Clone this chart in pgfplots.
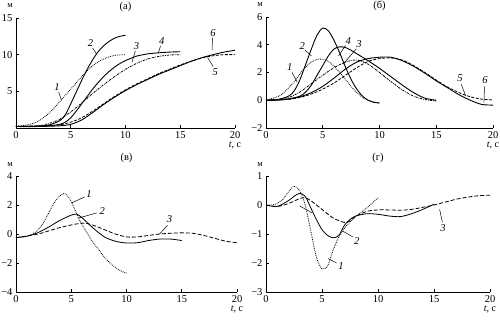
\documentclass[border=0pt]{standalone}
\usepackage{fontspec}
\setmainfont{Liberation Serif}
\usepackage{pgfplots}
\pgfplotsset{compat=1.18}
\newcommand\lab[3]{\node[font=\itshape\fontsize{10.5}{12}\selectfont, inner sep=0pt] at (axis cs:#1,#2) {#3};}
\newcommand\lead[4]{\draw[line width=0.5pt] (axis cs:#1,#2) -- (axis cs:#3,#4);}
\pgfplotsset{
  panel/.style={
    scale only axis, clip=false, anchor=south west,
    axis lines=left, axis line style={-, line width=0.6pt},
    tick align=inside, major tick length=3pt,
    tick style={line width=0.6pt, black},
    xmin=0, xmax=20,
    xtick={0,5,10,15,20}, xticklabels={0,5,10,15,20},
    ticklabel style={font=\fontsize{10.5}{12}\selectfont},
    xticklabel style={inner sep=0.5pt, yshift=-3pt},
    xlabel={\textit{t}, с},
    xlabel style={at={(axis description cs:1,0)}, anchor=north, yshift=-14pt, inner sep=0pt, font=\fontsize{10}{12}\selectfont},
    ylabel={м},
    ylabel style={rotate=-90, at={(axis description cs:0,1)}, anchor=base east, xshift=-3pt, yshift=10pt, inner sep=0pt, font=\fontsize{8.5}{10}\selectfont},
    title style={at={(axis description cs:0.5,1)}, anchor=base, yshift=2.5pt, inner sep=0pt, font=\fontsize{10.5}{12}\selectfont},
    every axis plot/.append style={smooth, no marks, black},
  },
  s1/.style={line width=0.8pt, dash pattern=on 0.8pt off 1pt},
  s2/.style={line width=0.9pt},
  s3/.style={line width=0.8pt, dash pattern=on 2.2pt off 1pt on 0.7pt off 1pt},
  s5/.style={line width=0.8pt, dash pattern=on 3pt off 1.5pt},
  s6/.style={line width=0.9pt},
  sd/.style={line width=0.8pt, dash pattern=on 4pt off 2pt},
  sthin/.style={line width=0.8pt},
}
\begin{document}
\begin{tikzpicture}
\useasboundingbox (0,0) rectangle (500pt,321pt);
% (a)
\begin{axis}[panel, at={(16pt,193pt)}, width=219pt, height=110pt,
  ymin=0, ymax=15, ytick={5,10,15}, yticklabels={5,10,15}, title={(а)}]
\addplot[s1] coordinates {(0,0.3)(1,0.4)(2,0.9)(3,2.0)(4,3.6)(5,5.3)(6,7.0)(7,8.5)(8,9.4)(9,9.9)(10,10.0)};
\addplot[s2] coordinates {(0,0.2)(2,0.25)(3,0.4)(4,1.0)(4.5,1.8)(5,3.3)(5.5,4.9)(6,6.5)(6.5,8.0)(7,9.3)(7.5,10.4)(8,11.2)(8.5,11.8)(9,12.25)(9.5,12.5)(10,12.65)};
\addplot[s3] coordinates {(0,0.2)(2,0.3)(3,0.6)(4,1.2)(5,2.2)(6,3.4)(7,4.7)(8,5.9)(9,7.0)(10,8.0)(11,8.8)(12,9.4)(13,9.75)(14,9.95)(15,10.0)};
\addplot[s2] coordinates {(0,0.2)(3,0.3)(4,0.5)(4.5,0.8)(5,1.4)(5.5,2.3)(6,3.3)(6.5,4.3)(7,5.3)(7.5,6.2)(8,7.0)(8.5,7.7)(9,8.3)(9.5,8.8)(10,9.2)(10.5,9.5)(11,9.8)(12,10.1)(13,10.25)(14,10.35)(15,10.4)};
\addplot[s5] coordinates {(0,0.2)(2,0.25)(4,0.45)(5,0.8)(6,1.4)(7,2.3)(8,3.3)(9,4.3)(10,5.2)(11,6.0)(12,6.7)(13,7.4)(14,8.0)(15,8.6)(16,9.1)(17,9.55)(18,9.85)(19,10.0)(20,10.0)};
\addplot[s6] coordinates {(0,0.2)(2,0.2)(4,0.3)(5,0.5)(6,1.1)(7,2.1)(8,3.2)(9,4.2)(10,5.1)(11,5.9)(12,6.6)(13,7.3)(14,7.9)(15,8.5)(16,9.1)(17,9.6)(18,10.0)(19,10.35)(20,10.6)};
\lab{3.75}{5.6}{1}\lead{3.9}{4.9}{4.15}{3.8}
\lab{6.8}{11.6}{2}\lead{7.0}{10.9}{7.35}{10.1}
\lab{11.0}{11.2}{3}\lead{10.9}{10.5}{10.6}{9.0}
\lab{13.3}{11.9}{4}\lead{13.2}{11.2}{13.0}{10.2}
\lab{18.0}{13.0}{6}\lead{17.95}{12.3}{17.9}{10.6}
\lab{18.2}{7.6}{5}\lead{18.0}{8.4}{17.5}{9.6}
\end{axis}
% (b)
\begin{axis}[panel, at={(266pt,193pt)}, width=227pt, height=111pt,
  ymin=-2, ymax=6, ytick={-2,0,2,4,6}, yticklabels={−2,0,2,4,6}, title={(б)}]
\addplot[s1] coordinates {(0,0)(1,0.25)(1.5,0.5)(2,0.9)(2.5,1.35)(3,1.9)(3.5,2.4)(4,2.75)(4.5,2.95)(5,2.95)(5.5,2.8)(6,2.45)(6.5,2.0)(7,1.5)(7.5,1.0)(8,0.55)(8.5,0.2)(9,0.0)(9.5,-0.12)(10,-0.2)};
\addplot[s2] coordinates {(0,0)(1,0.05)(2,0.3)(2.5,0.7)(3,1.5)(3.5,2.6)(4,3.7)(4.5,4.7)(5,5.2)(5.5,5.0)(6,4.3)(6.5,3.4)(7,2.4)(7.5,1.5)(8,0.8)(8.5,0.3)(9,0.0)(9.5,-0.15)(10,-0.2)};
\addplot[s3] coordinates {(0,0)(1,0.05)(2,0.2)(3,0.6)(4,1.2)(5,1.8)(6,2.35)(7,2.75)(8,2.9)(9,2.6)(10,2.0)(11,1.35)(12,0.75)(13,0.3)(14,0.05)(15,-0.05)};
\addplot[s2] coordinates {(0,0)(1,0.02)(2,0.1)(3,0.3)(3.5,0.6)(4,1.1)(4.5,1.8)(5,2.5)(5.5,3.2)(6,3.7)(6.5,3.85)(7,3.8)(7.5,3.6)(8,3.35)(9,2.85)(10,2.3)(11,1.7)(12,1.1)(13,0.55)(14,0.15)(15,0.0)};
\addplot[s5] coordinates {(0,0)(1,0.02)(2,0.07)(3,0.2)(4,0.45)(5,0.8)(6,1.25)(7,1.8)(8,2.35)(9,2.8)(10,3.0)(11,3.05)(12,2.9)(13,2.5)(14,2.0)(15,1.45)(16,0.95)(17,0.55)(18,0.25)(19,0.08)(20,0.02)};
\addplot[s6] coordinates {(0,0)(1,0.02)(2,0.08)(3,0.25)(4,0.55)(5,1.0)(6,1.6)(7,2.25)(8,2.75)(9,3.0)(10,3.1)(11,3.1)(12,2.85)(13,2.45)(14,1.95)(15,1.4)(16,0.9)(17,0.4)(18,0.0)(19,-0.3)(20,-0.35)};
\lab{2.1}{2.4}{1}\lead{2.3}{2.0}{2.75}{1.3}
\lab{3.2}{3.9}{2}\lead{3.45}{3.6}{4.0}{3.2}
\lab{7.25}{4.3}{4}\lead{7.0}{3.95}{6.4}{3.2}
\lab{8.2}{4.05}{3}\lead{7.95}{3.7}{6.8}{2.6}
\lab{17.1}{1.6}{5}\lead{17.2}{1.15}{17.6}{0.3}
\lab{19.3}{1.45}{6}\lead{19.25}{1.0}{19.2}{-0.15}
\end{axis}
% (v)
\begin{axis}[panel, at={(16pt,29pt)}, width=221pt, height=116pt,
  ymin=-4, ymax=4, ytick={-4,-2,0,2,4}, yticklabels={−4,−2,0,2,4}, title={(в)},
  title style={yshift=7pt}]
\addplot[s1] coordinates {(0,-0.25)(1,-0.15)(1.5,0.0)(2,0.3)(2.5,0.8)(3,1.5)(3.5,2.2)(4,2.65)(4.4,2.8)(4.8,2.5)(5.2,1.9)(5.6,1.2)(6,0.6)(6.5,0.0)(7,-0.6)(7.5,-1.1)(8,-1.6)(8.5,-2.0)(9,-2.3)(9.5,-2.55)(10,-2.7)};
\addplot[sthin] coordinates {(0,-0.25)(1,-0.15)(2,0.1)(3,0.5)(4,0.95)(5,1.3)(5.5,1.37)(6,1.1)(7,0.4)(8,-0.2)(9,-0.5)(10,-0.62)(11,-0.6)(12,-0.45)(13,-0.35)(14,-0.35)(15,-0.45)};
\addplot[sd] coordinates {(0,-0.25)(2,0.0)(4,0.45)(6,0.75)(7,0.6)(8,0.3)(9,0.0)(10,-0.2)(11,-0.2)(12,-0.1)(13,0.0)(14,0.05)(15,0.08)(16,0.05)(17,-0.1)(18,-0.3)(19,-0.5)(20,-0.6)};
\lab{6.6}{2.75}{1}\lead{6.2}{2.55}{5.05}{2.15}
\lab{7.8}{1.6}{2}\lead{7.3}{1.45}{5.65}{1.1}
\lab{13.9}{1.0}{3}\lead{13.7}{0.6}{13.0}{0.0}
\end{axis}
% (g)
\begin{axis}[panel, at={(266pt,29pt)}, width=224pt, height=116pt,
  ymin=-3, ymax=1, ytick={-3,-2,-1,0,1}, yticklabels={−3,−2,−1,0,1}, title={(г)},
  title style={yshift=7pt}]
\addplot[s1] coordinates {(0,0)(0.5,0.0)(1,0.05)(1.5,0.2)(2,0.45)(2.5,0.65)(3,0.5)(3.5,0.0)(4,-0.9)(4.5,-1.8)(5,-2.2)(5.5,-2.1)(6,-1.55)(6.5,-1.1)(7,-0.8)(8,-0.4)(9,-0.1)(10,0.25)};
\addplot[sthin] coordinates {(0,0)(1,-0.05)(2,0.15)(2.5,0.3)(3,0.4)(3.5,0.3)(4,-0.1)(4.5,-0.5)(5,-0.85)(5.5,-1.05)(6,-1.13)(6.5,-1.05)(7,-0.7)(7.5,-0.5)(8,-0.38)(9,-0.3)(10,-0.32)(11,-0.38)(12,-0.4)(13,-0.3)(14,-0.15)(15,0.03)};
\addplot[sd] coordinates {(0,0)(1,-0.05)(2,0.05)(3,0.22)(3.5,0.25)(4,0.15)(5,-0.15)(6,-0.45)(7,-0.6)(7.5,-0.55)(8,-0.4)(9,-0.22)(10,-0.17)(11,-0.17)(12,-0.18)(13,-0.15)(14,-0.08)(15,0.0)(16,0.1)(17,0.2)(18,0.27)(19,0.32)(20,0.34)};
\lab{6.7}{-2.1}{1}\lead{6.3}{-2.0}{5.55}{-1.85}
\lab{8.1}{-1.25}{2}\lead{7.75}{-1.1}{6.85}{-0.9}
\lab{15.8}{-0.8}{3}\lead{15.75}{-0.6}{15.5}{-0.15}
\lead{3.0}{-0.03}{4.1}{-0.27}
\end{axis}
\end{tikzpicture}
\end{document}
